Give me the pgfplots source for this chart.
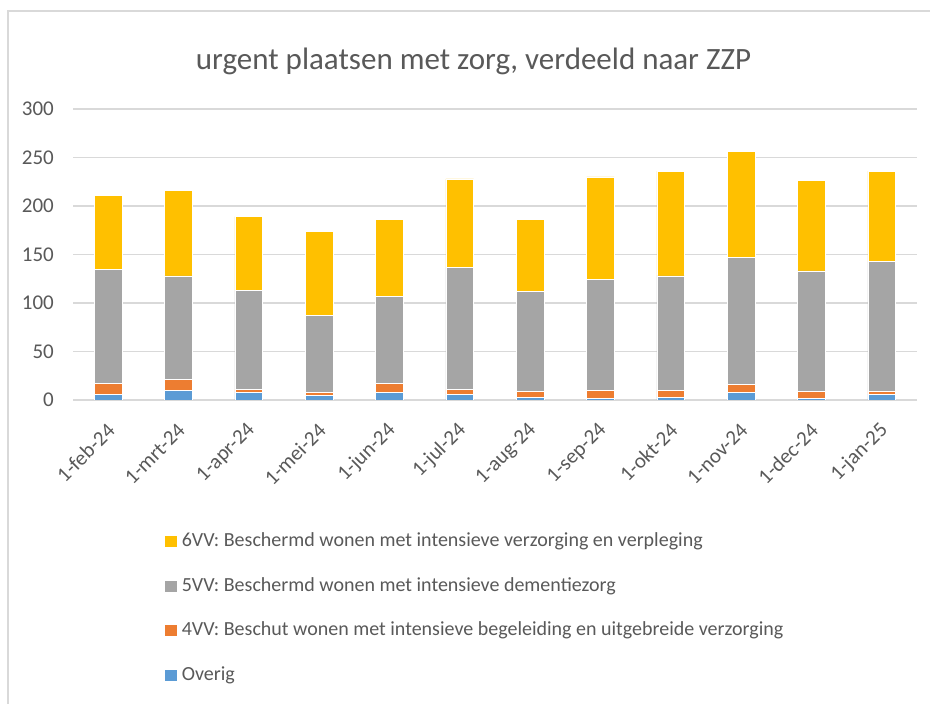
\documentclass[border=0pt]{standalone}
\usepackage{fontspec}
\setmainfont{Carlito}
\usepackage{pgfplots}
\pgfplotsset{compat=1.18}
\definecolor{c6}{HTML}{FFC000}
\definecolor{c5}{HTML}{A5A5A5}
\definecolor{c4}{HTML}{ED7D31}
\definecolor{c0}{HTML}{5B9BD5}
\definecolor{txt}{HTML}{595959}
\definecolor{grd}{HTML}{D9D9D9}
\begin{document}
\begin{tikzpicture}
\useasboundingbox (0,0) rectangle (930bp,704bp);
\fill[white] (0,0) rectangle (930bp,704bp);
\draw[grd, line width=1.5bp] (8bp,0) -- (8bp,693bp) -- (931bp,693bp);
\node[anchor=base, text=txt, font=\fontsize{31bp}{36bp}\selectfont] at (473.5bp,634bp) {urgent plaatsen met zorg, verdeeld naar ZZP};
\begin{axis}[
  at={(73bp,304bp)}, anchor=south west,
  scale only axis, width=844bp, height=291bp,
  ybar stacked, bar width=27.7bp,
  xmin=-0.5, xmax=11.5, ymin=0, ymax=300,
  xtick={0,...,11},
  xticklabels={1-feb-24,1-mrt-24,1-apr-24,1-mei-24,1-jun-24,1-jul-24,1-aug-24,1-sep-24,1-okt-24,1-nov-24,1-dec-24,1-jan-25},
  ytick={0,50,...,300},
  major tick length=0pt,
  axis line style={draw=none},
  ymajorgrids, grid style={grd, line width=1.5bp},
  /pgf/number format/assume math mode=true,
  ticklabel style={text=txt, font=\fontsize{21bp}{25bp}\selectfont, inner sep=0pt},
  yticklabel style={anchor=east, xshift=-19bp},
  xticklabel style={xshift=3bp, yshift=-27bp, rotate=45, anchor=east},
  reverse legend,
  legend image code/.code={\fill[#1] (0bp,-6bp) rectangle (13bp,6bp);},
  legend style={at={(0.1078,-0.455)}, anchor=north west, draw=none, fill=none,
    inner sep=0pt, legend cell align=left, text=txt,
    font=\fontsize{20bp}{24bp}\selectfont, row sep=26.5bp,
    nodes={inner sep=0pt, text height=14bp, text depth=4bp},
    /tikz/every odd column/.append style={column sep=4bp}},
]
\addplot[fill=c0, draw=white, line width=0.6bp] coordinates {(0,6) (1,10) (2,8) (3,5) (4,8) (5,6) (6,3) (7,2) (8,3) (9,8) (10,2) (11,6)};
\addlegendentry{Overig}
\addplot[fill=c4, draw=white, line width=0.6bp] coordinates {(0,11) (1,11) (2,3) (3,3) (4,9) (5,5) (6,6) (7,8) (8,7) (9,8) (10,7) (11,3)};
\addlegendentry{4VV: Beschut wonen met intensieve begeleiding en uitgebreide verzorging}
\addplot[fill=c5, draw=white, line width=0.6bp] coordinates {(0,118) (1,107) (2,102) (3,79) (4,90) (5,126) (6,103) (7,114) (8,118) (9,131) (10,124) (11,134)};
\addlegendentry{5VV: Beschermd wonen met intensieve dementiezorg}
\addplot[fill=c6, draw=white, line width=0.6bp] coordinates {(0,76) (1,88) (2,76) (3,87) (4,79) (5,91) (6,74) (7,106) (8,108) (9,109) (10,93) (11,93)};
\addlegendentry{6VV: Beschermd wonen met intensieve verzorging en verpleging}
\end{axis}
\end{tikzpicture}
\end{document}
